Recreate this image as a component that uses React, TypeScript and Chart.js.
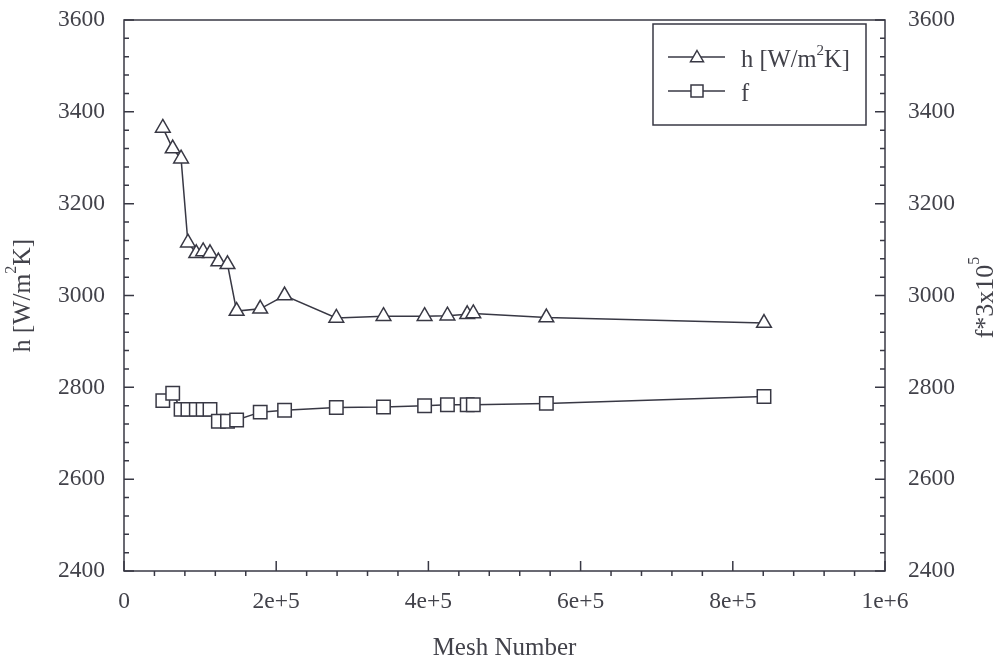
import React, { useEffect, useRef } from 'react';
import { Chart, registerables } from 'chart.js';
Chart.register(...registerables);

const meshNumbers = [51000, 64000, 75000, 84000, 95000, 104000, 113000, 124000, 136000, 148000, 179000, 211000, 279000, 341000, 395000, 425000, 451000, 459000, 555000, 841000];
const hValues = [3365, 3320, 3298, 3115, 3092, 3096, 3092, 3074, 3068, 2966, 2971, 3000, 2951, 2955, 2955, 2956, 2959, 2961, 2952, 2940];
const fValues = [2771, 2787, 2752, 2752, 2752, 2752, 2752, 2726, 2726, 2729, 2746, 2750, 2756, 2757, 2760, 2762, 2762, 2762, 2765, 2780];
const xTickValues = [0, 200000, 400000, 600000, 800000, 1000000];
const xTickLabels = ['0', '2e+5', '4e+5', '6e+5', '8e+5', '1e+6'];
const yTickValues = [2400, 2600, 2800, 3000, 3200, 3400, 3600];
const yTickLabels = ['2400', '2600', '2800', '3000', '3200', '3400', '3600'];
const xMinorStep = 40000;
const yMinorStep = 40;

const INK = '#383844';
const TEXT = '#42424a';
const FONT = "'Liberation Serif', 'DejaVu Serif', serif";
const TICK_SIZE = 23.5;

type Part = { t: string; sup?: boolean };

function drawRich(ctx: CanvasRenderingContext2D, parts: Part[], x: number, y: number, size: number, align: 'center' | 'left') {
  const supSize = Math.round(size * 0.62);
  let total = 0;
  const widths = parts.map((p) => {
    ctx.font = `${p.sup ? supSize : size}px ${FONT}`;
    const w = ctx.measureText(p.t).width;
    total += w;
    return w;
  });
  let cx = align === 'center' ? x - total / 2 : x;
  ctx.textAlign = 'left';
  ctx.textBaseline = 'middle';
  parts.forEach((p, i) => {
    ctx.font = `${p.sup ? supSize : size}px ${FONT}`;
    ctx.fillText(p.t, cx, p.sup ? y - size * 0.42 : y);
    cx += widths[i];
  });
}

function triangle(ctx: CanvasRenderingContext2D, x: number, y: number, r: number) {
  ctx.beginPath();
  ctx.moveTo(x, y - r);
  ctx.lineTo(x + 0.866 * r, y + 0.5 * r);
  ctx.lineTo(x - 0.866 * r, y + 0.5 * r);
  ctx.closePath();
  ctx.fillStyle = '#fff';
  ctx.fill();
  ctx.stroke();
}

function square(ctx: CanvasRenderingContext2D, x: number, y: number, r: number) {
  const s = Math.SQRT1_2 * r;
  ctx.beginPath();
  ctx.rect(x - s, y - s, 2 * s, 2 * s);
  ctx.fillStyle = '#fff';
  ctx.fill();
  ctx.stroke();
}

const framePlugin = {
  id: 'framePlugin',
  afterDraw(chart: any) {
    const ctx: CanvasRenderingContext2D = chart.ctx;
    const { left, right, top, bottom } = chart.chartArea;
    const xs = chart.scales.x;
    const ys = chart.scales.y;
    ctx.save();
    ctx.strokeStyle = INK;
    ctx.lineWidth = 1.5;
    ctx.strokeRect(left, top, right - left, bottom - top);

    for (let v = 2400; v <= 3600; v += yMinorStep) {
      const py = ys.getPixelForValue(v);
      const major = yTickValues.includes(v);
      const len = major ? 10 : 5;
      ctx.beginPath();
      ctx.moveTo(left, py);
      ctx.lineTo(left + len, py);
      ctx.moveTo(right, py);
      ctx.lineTo(right - len, py);
      ctx.stroke();
    }
    for (let v = 0; v <= 1000000; v += xMinorStep) {
      const px = xs.getPixelForValue(v);
      const major = xTickValues.includes(v);
      ctx.beginPath();
      if (major) {
        ctx.moveTo(px, bottom);
        ctx.lineTo(px, bottom - 10);
      } else {
        ctx.moveTo(px, bottom);
        ctx.lineTo(px, bottom + 5);
      }
      ctx.stroke();
    }

    ctx.fillStyle = TEXT;
    ctx.font = `${TICK_SIZE}px ${FONT}`;
    ctx.textBaseline = 'middle';
    yTickValues.forEach((v, i) => {
      const py = ys.getPixelForValue(v);
      ctx.textAlign = 'right';
      ctx.fillText(yTickLabels[i], left - 19, py);
      ctx.textAlign = 'left';
      ctx.fillText(yTickLabels[i], right + 23, py);
    });

    const lx = 653, ly = 24, lw = 213, lh = 101;
    ctx.fillStyle = '#fff';
    ctx.fillRect(lx, ly, lw, lh);
    ctx.strokeRect(lx, ly, lw, lh);
    const rows = [57, 91];
    rows.forEach((ry, i) => {
      ctx.strokeStyle = INK;
      ctx.lineWidth = 1.5;
      ctx.beginPath();
      ctx.moveTo(668, ry);
      ctx.lineTo(725, ry);
      ctx.stroke();
      if (i === 0) triangle(ctx, 697, ry + 1, 7.5);
      else square(ctx, 697, ry, 8.5);
    });
    ctx.fillStyle = TEXT;
    drawRich(ctx, [{ t: 'h [W/m' }, { t: '2', sup: true }, { t: 'K]' }], 741, rows[0] + 4, 24.5, 'left');
    drawRich(ctx, [{ t: 'f' }], 741, rows[1] + 4, 24.5, 'left');

    ctx.fillStyle = TEXT;
    drawRich(ctx, [{ t: 'Mesh Number' }], (left + right) / 2, 648, 25, 'center');
    ctx.save();
    ctx.translate(23, (top + bottom) / 2);
    ctx.rotate(-Math.PI / 2);
    drawRich(ctx, [{ t: 'h [W/m' }, { t: '2', sup: true }, { t: 'K]' }], 0, 0, 25.5, 'center');
    ctx.restore();
    ctx.save();
    ctx.translate(986, (top + bottom) / 2 + 2);
    ctx.rotate(-Math.PI / 2);
    drawRich(ctx, [{ t: 'f*3x10' }, { t: '5', sup: true }], 0, 0, 26, 'center');
    ctx.restore();
    ctx.restore();
  },
};

export default function App() {
  const ref = useRef<HTMLCanvasElement | null>(null);
  useEffect(() => {
    if (!ref.current) return;
    const ptsH = meshNumbers.map((x, i) => ({ x, y: hValues[i] }));
    const ptsF = meshNumbers.map((x, i) => ({ x, y: fValues[i] }));
    const tickFont = { family: FONT, size: TICK_SIZE };
    const chart = new Chart(ref.current, {
      type: 'line',
      data: {
        datasets: [
          {
            label: 'h [W/m²K]',
            data: ptsH,
            borderColor: INK,
            backgroundColor: '#fff',
            borderWidth: 1.5,
            pointStyle: 'triangle',
            pointRadius: 8.5,
            pointBorderWidth: 1.5,
            pointBackgroundColor: '#fff',
            pointBorderColor: INK,
            tension: 0,
            yAxisID: 'y',
          },
          {
            label: 'f',
            data: ptsF,
            borderColor: INK,
            backgroundColor: '#fff',
            borderWidth: 1.5,
            pointStyle: 'rect',
            pointRadius: 9.5,
            pointBorderWidth: 1.5,
            pointBackgroundColor: '#fff',
            pointBorderColor: INK,
            tension: 0,
            yAxisID: 'y',
          },
        ],
      },
      options: {
        responsive: false,
        animation: false,
        layout: { padding: { top: 20, left: 0, right: 0, bottom: 0 } },
        plugins: { legend: { display: false }, tooltip: { enabled: false } },
        scales: {
          x: {
            type: 'linear',
            min: 0,
            max: 1000000,
            grid: { display: false, drawTicks: false },
            border: { display: false },
            afterBuildTicks: (s: any) => {
              s.ticks = xTickValues.map((v) => ({ value: v }));
            },
            afterFit: (s: any) => {
              s.height = 92;
            },
            ticks: {
              padding: 17,
              color: TEXT,
              font: tickFont,
              maxRotation: 0,
              autoSkip: false,
              callback: (v: any) => {
                const i = xTickValues.indexOf(Number(v));
                return i >= 0 ? xTickLabels[i] : '';
              },
            },
          },
          y: {
            type: 'linear',
            position: 'left',
            min: 2400,
            max: 3600,
            grid: { display: false, drawTicks: false },
            border: { display: false },
            ticks: { display: false },
            afterFit: (s: any) => {
              s.width = 124;
            },
          },
          y1: {
            type: 'linear',
            position: 'right',
            min: 2400,
            max: 3600,
            grid: { display: false, drawTicks: false },
            border: { display: false },
            ticks: { display: false },
            afterFit: (s: any) => {
              s.width = 116;
            },
          },
        },
      },
      plugins: [framePlugin],
    } as any);
    return () => chart.destroy();
  }, []);
  return (
    <div style={{ position: 'fixed', left: 0, top: 0, width: 1001, height: 663, background: '#fff' }}>
      <canvas ref={ref} width={1001} height={663} style={{ display: 'block' }} />
    </div>
  );
}
